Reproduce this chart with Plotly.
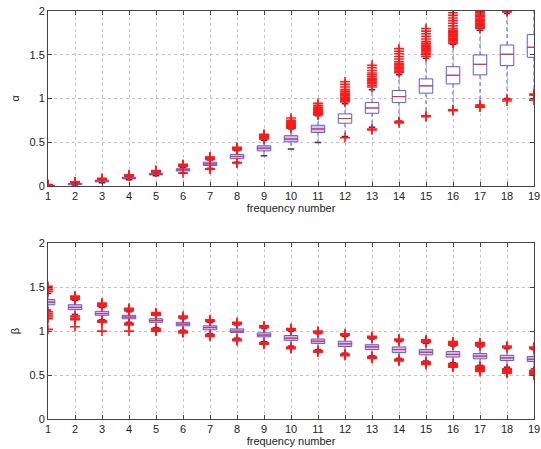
import plotly.graph_objects as go

cats = list(range(1, 20))

# ---- alpha (top) ----
a_q1 = [0.0, 0.012, 0.045, 0.08, 0.125, 0.17, 0.232, 0.31, 0.40, 0.503, 0.61, 0.716, 0.83, 0.952, 1.06, 1.166, 1.269, 1.375, 1.47]
a_med = [0.003, 0.02, 0.055, 0.088, 0.132, 0.182, 0.25, 0.335, 0.43, 0.535, 0.65, 0.77, 0.89, 1.02, 1.143, 1.265, 1.39, 1.505, 1.585]
a_q3 = [0.006, 0.028, 0.065, 0.097, 0.14, 0.195, 0.27, 0.358, 0.457, 0.573, 0.693, 0.823, 0.952, 1.09, 1.223, 1.363, 1.497, 1.611, 1.73]
a_lw = [0.0, 0.005, 0.035, 0.07, 0.115, 0.15, 0.20, 0.27, 0.345, 0.42, 0.495, 0.565, 0.67, 0.74, 0.80, 0.87, 0.925, 1.0, 1.04]
a_hw = [0.008, 0.035, 0.072, 0.105, 0.15, 0.21, 0.295, 0.40, 0.52, 0.65, 0.80, 0.94, 1.10, 1.27, 1.46, 1.62, 1.78, 1.97, 2.05]
a_up = [
    [0.01, 0.012, 0.015],
    [0.038, 0.042, 0.045],
    [0.075, 0.08, 0.085],
    [0.11, 0.115, 0.12, 0.125],
    [0.155, 0.16, 0.165, 0.17, 0.175],
    [0.22, 0.225, 0.23, 0.235, 0.24, 0.245],
    [0.30, 0.305, 0.31, 0.315, 0.32, 0.325, 0.33],
    [0.41, 0.415, 0.42, 0.425, 0.43, 0.435, 0.44],
    [0.535, 0.54, 0.55, 0.555, 0.56, 0.565, 0.57, 0.58, 0.59],
    [0.66, 0.67, 0.68, 0.69, 0.70, 0.71, 0.72, 0.735, 0.75, 0.775],
    [0.81, 0.82, 0.83, 0.84, 0.85, 0.86, 0.87, 0.88, 0.90, 0.92, 0.945],
    [0.96, 0.975, 0.99, 1.0, 1.015, 1.03, 1.045, 1.06, 1.08, 1.10, 1.13, 1.16, 1.19],
    [1.13, 1.15, 1.17, 1.185, 1.20, 1.215, 1.23, 1.25, 1.27, 1.29, 1.32, 1.35, 1.38],
    [1.295, 1.31, 1.325, 1.34, 1.355, 1.37, 1.385, 1.40, 1.42, 1.45, 1.48, 1.51, 1.54, 1.57],
    [1.48, 1.50, 1.515, 1.53, 1.545, 1.56, 1.575, 1.59, 1.61, 1.63, 1.65, 1.68, 1.71, 1.74, 1.77, 1.80],
    [1.63, 1.645, 1.66, 1.675, 1.69, 1.705, 1.72, 1.735, 1.75, 1.765, 1.78, 1.80, 1.83, 1.86, 1.89, 1.92, 1.95, 1.98],
    [1.80, 1.815, 1.83, 1.845, 1.86, 1.875, 1.89, 1.905, 1.92, 1.935, 1.95, 1.965, 1.98, 1.995],
    [1.99, 2.0],
    [],
]
a_low = [
    [], [], [], [], [], [0.145], [0.19, 0.195], [0.26, 0.265], [], [], [], [0.55],
    [0.64, 0.65], [0.72, 0.735], [0.79, 0.80], [0.86, 0.87], [0.90, 0.91, 0.925], [0.97, 0.99], [0.98, 1.04, 1.05],
]

# ---- beta (bottom) ----
b_q1 = [1.30, 1.245, 1.18, 1.14, 1.10, 1.06, 1.015, 0.985, 0.935, 0.895, 0.86, 0.825, 0.79, 0.755, 0.73, 0.705, 0.685, 0.665, 0.655]
b_med = [1.33, 1.27, 1.20, 1.16, 1.12, 1.08, 1.04, 1.0, 0.955, 0.92, 0.885, 0.855, 0.82, 0.79, 0.76, 0.735, 0.715, 0.695, 0.68]
b_q3 = [1.36, 1.30, 1.225, 1.18, 1.14, 1.10, 1.06, 1.025, 0.98, 0.95, 0.91, 0.885, 0.845, 0.82, 0.79, 0.767, 0.745, 0.725, 0.71]
b_lw = [1.24, 1.19, 1.13, 1.10, 1.04, 1.01, 0.97, 0.92, 0.88, 0.83, 0.79, 0.75, 0.72, 0.69, 0.66, 0.64, 0.61, 0.59, 0.57]
b_hw = [1.43, 1.35, 1.27, 1.22, 1.18, 1.14, 1.10, 1.07, 1.03, 1.0, 0.97, 0.94, 0.91, 0.88, 0.86, 0.83, 0.82, 0.80, 0.79]
b_up = [
    [1.45, 1.47, 1.49, 1.51],
    [1.36, 1.37, 1.38, 1.39, 1.40],
    [1.28, 1.29, 1.30, 1.31, 1.32],
    [1.23, 1.24, 1.25, 1.26],
    [1.18, 1.19, 1.20, 1.21],
    [1.15, 1.16, 1.17],
    [1.11, 1.12, 1.13],
    [1.08, 1.09, 1.10],
    [1.04, 1.05, 1.06],
    [1.01, 1.02, 1.03],
    [0.98, 0.99, 1.0],
    [0.95, 0.96, 0.97],
    [0.92, 0.93, 0.94],
    [0.89, 0.90, 0.91],
    [0.87, 0.88, 0.89, 0.90],
    [0.84, 0.85, 0.86, 0.87, 0.88],
    [0.83, 0.84, 0.85, 0.86, 0.87],
    [0.81, 0.82, 0.83],
    [0.80, 0.81, 0.82],
]
b_low = [
    [1.14, 1.16, 1.18, 1.20, 1.22, 1.02],
    [1.13, 1.14, 1.15, 1.17, 1.05],
    [1.10, 1.11, 1.12, 1.0],
    [1.07, 1.08, 1.09, 1.0],
    [1.0, 1.01, 1.02, 1.03],
    [0.98, 0.99, 1.0],
    [0.94, 0.95, 0.96],
    [0.89, 0.90, 0.91],
    [0.85, 0.86, 0.87],
    [0.80, 0.81, 0.82],
    [0.76, 0.77, 0.78],
    [0.72, 0.73, 0.74],
    [0.69, 0.70, 0.71],
    [0.66, 0.67, 0.68],
    [0.62, 0.63, 0.64, 0.65],
    [0.59, 0.60, 0.61, 0.62, 0.63],
    [0.54, 0.55, 0.56, 0.57, 0.58, 0.59, 0.60],
    [0.52, 0.53, 0.54, 0.55, 0.56, 0.57],
    [0.50, 0.51, 0.52, 0.53, 0.54, 0.55],
]

BLUE = "#5a5ae0"
RED = "#ff1a1a"
BOXW = 0.5
CAPW = 0.12

fig = go.Figure()


def add_panel(q1, med, q3, lw, hw, up, low, xa, ya):
    # whiskers (dashed)
    wx, wy = [], []
    for c, a, b, l, h in zip(cats, q1, q3, lw, hw):
        wx += [c, c, None, c, c, None]
        wy += [b, h, None, a, l, None]
    fig.add_trace(go.Scatter(x=wx, y=wy, mode="lines", xaxis=xa, yaxis=ya,
                             line=dict(color=BLUE, width=1, dash="4px,3px"),
                             showlegend=False, hoverinfo="skip"))
    # caps
    cx, cy = [], []
    for c, l, h in zip(cats, lw, hw):
        cx += [c - CAPW, c + CAPW, None, c - CAPW, c + CAPW, None]
        cy += [l, l, None, h, h, None]
    fig.add_trace(go.Scatter(x=cx, y=cy, mode="lines", xaxis=xa, yaxis=ya,
                             line=dict(color="#303070", width=1.5),
                             showlegend=False, hoverinfo="skip"))
    # boxes
    for c, a, m, b in zip(cats, q1, med, q3):
        fill = "rgba(215,195,240,1)" if (b - a) < 0.09 else "white"
        fig.add_trace(go.Box(x=[c], q1=[a], median=[m], q3=[b],
                             lowerfence=[a], upperfence=[b], width=BOXW,
                             whiskerwidth=0, boxpoints=False,
                             line=dict(color=BLUE, width=1), fillcolor=fill,
                             xaxis=xa, yaxis=ya, showlegend=False, hoverinfo="skip"))
    # medians
    mx, my = [], []
    for c, m in zip(cats, med):
        mx += [c - BOXW / 2, c + BOXW / 2, None]
        my += [m, m, None]
    fig.add_trace(go.Scatter(x=mx, y=my, mode="lines", xaxis=xa, yaxis=ya,
                             line=dict(color="#e83030", width=1),
                             showlegend=False, hoverinfo="skip"))
    # outliers
    ox, oy = [], []
    for c, u, lo in zip(cats, up, low):
        for v in u + lo:
            ox.append(c)
            oy.append(v)
    fig.add_trace(go.Scatter(x=ox, y=oy, mode="markers", xaxis=xa, yaxis=ya,
                             marker=dict(symbol="cross-thin", size=7,
                                         line=dict(color=RED, width=1.6)),
                             showlegend=False, hoverinfo="skip"))


add_panel(a_q1, a_med, a_q3, a_lw, a_hw, a_up, a_low, "x", "y")
add_panel(b_q1, b_med, b_q3, b_lw, b_hw, b_up, b_low, "x2", "y2")

FONT = dict(family="Liberation Sans, Arial, sans-serif", size=11, color="#222")

xcommon = dict(range=[1, 19], tickvals=cats, ticks="inside", ticklen=4,
               tickcolor="#444", mirror="ticks", showline=True, linecolor="#444",
               linewidth=1, showgrid=True, gridcolor="#c4c4c4", griddash="dot",
               gridwidth=1, zeroline=False, tickfont=FONT, automargin=False,
               title=dict(text="frequency number", font=FONT, standoff=2))
ycommon = dict(range=[0, 2], tickvals=[0, 0.5, 1, 1.5, 2], ticktext=["0", "0.5", "1", "1.5", "2"],
               ticks="inside", ticklen=4, tickcolor="#444", mirror="ticks",
               showline=True, linecolor="#444", linewidth=1, showgrid=True,
               gridcolor="#c4c4c4", griddash="dot", gridwidth=1, zeroline=False,
               tickfont=FONT, automargin=False)

fig.update_layout(
    width=541, height=449,
    margin=dict(l=47.5, r=6.5, t=11, b=29.5),
    paper_bgcolor="white", plot_bgcolor="white",
    font=FONT,
    xaxis=dict(xcommon, domain=[0, 1], anchor="y"),
    yaxis=dict(ycommon, domain=[0.5716, 1], anchor="x",
               title=dict(text="α", font=FONT, standoff=7)),
    xaxis2=dict(xcommon, domain=[0, 1], anchor="y2"),
    yaxis2=dict(ycommon, domain=[0, 0.4308], anchor="x2",
                title=dict(text="β", font=FONT, standoff=7)),
    boxmode="overlay",
)

fig.write_html("out.html", config={"displayModeBar": False},
               post_script="document.body.style.margin='0px';document.body.style.overflow='hidden';")
